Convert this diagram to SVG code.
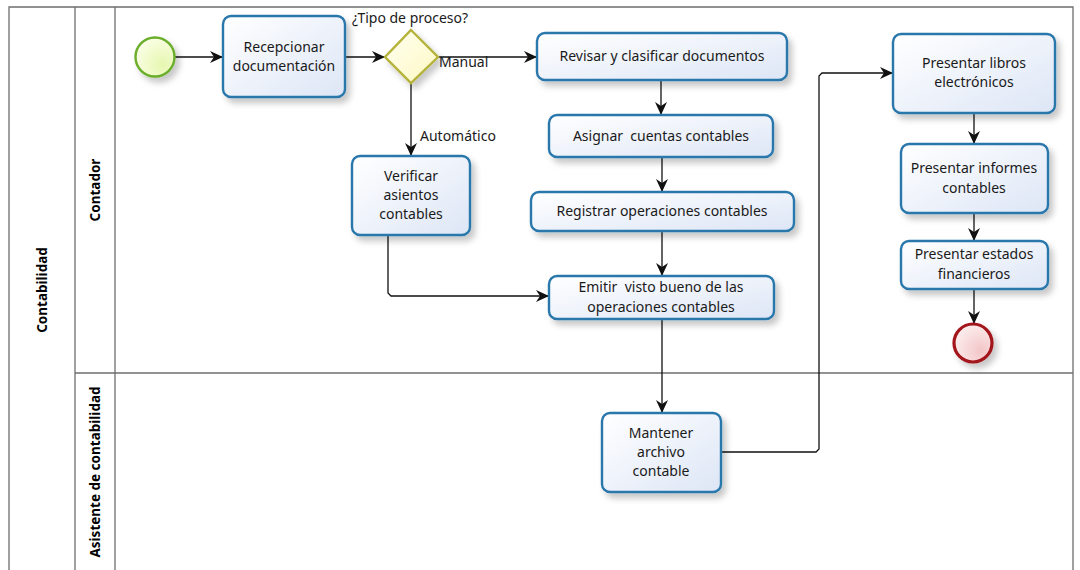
<svg xmlns="http://www.w3.org/2000/svg" width="1080" height="570" viewBox="0 0 1080 570">
  <style>
    .lane { fill: none; stroke: #6e6e6e; stroke-width: 1.3; }
    .lbl { font-family: "Noto Sans", "Open Sans", sans-serif; font-size: 13.5px; font-weight: bold; fill: #000; text-anchor: middle; }
    .task rect { fill: url(#taskFill); stroke: #2a77ac; stroke-width: 2.4; filter: url(#shadow); }
    .task text, .txt { font-family: "Noto Sans", "Open Sans", sans-serif; font-size: 14px; fill: #1a1a1a; text-anchor: middle; white-space: pre; }
    .start { text-anchor: start; }
    .flow { fill: none; stroke: #111; stroke-width: 1.3; marker-end: url(#arrow); }
  </style>
  <defs>
    <linearGradient id="taskFill" x1="0" y1="0" x2="1" y2="1">
      <stop offset="0" stop-color="#ffffff"/>
      <stop offset="1" stop-color="#dde6f6"/>
    </linearGradient>
    <radialGradient id="startFill" cx="0.7" cy="0.7" r="0.8">
      <stop offset="0" stop-color="#e6f7b0"/>
      <stop offset="1" stop-color="#fbffe8"/>
    </radialGradient>
    <radialGradient id="endFill" cx="0.7" cy="0.7" r="0.8">
      <stop offset="0" stop-color="#f3c6c8"/>
      <stop offset="1" stop-color="#fdf0f0"/>
    </radialGradient>
    <linearGradient id="gwFill" x1="0" y1="0" x2="1" y2="1">
      <stop offset="0" stop-color="#fffff0"/>
      <stop offset="1" stop-color="#fdf9c4"/>
    </linearGradient>
    <filter id="shadow" x="-20%" y="-20%" width="150%" height="160%">
      <feDropShadow dx="4" dy="5" stdDeviation="3" flood-color="#000" flood-opacity="0.22"/>
    </filter>
    <marker id="arrow" markerUnits="userSpaceOnUse" markerWidth="14" markerHeight="14" viewBox="0 0 14 14" refX="13" refY="7" orient="auto">
      <path d="M0,1 L13,7 L0,13 L4,7 z" fill="#111"/>
    </marker>
  </defs>

  <!-- pool and lanes -->
  <g id="pool">
    <rect x="0" y="0" width="1080" height="570" fill="#fff"/>
    <path class="lane" d="M9,575 V7 H1073 V575"/>
    <line class="lane" x1="75" y1="7" x2="75" y2="575"/>
    <line class="lane" x1="115" y1="7" x2="115" y2="575"/>
    <line class="lane" x1="75" y1="373" x2="1073" y2="373"/>
    <text class="lbl" transform="translate(47,290) rotate(-90)">Contabilidad</text>
    <text class="lbl" transform="translate(100,190) rotate(-90)">Contador</text>
    <text class="lbl" transform="translate(100,472) rotate(-90)">Asistente de contabilidad</text>
  </g>

  <!-- sequence flows -->
  <g id="connectors">
    <line class="flow" x1="175" y1="57" x2="223" y2="57"/>
    <line class="flow" x1="345" y1="57" x2="385" y2="57"/>
    <line class="flow" x1="438" y1="57" x2="537" y2="57"/>
    <line class="flow" x1="411" y1="83" x2="411" y2="156"/>
    <line class="flow" x1="661" y1="80" x2="661" y2="115"/>
    <line class="flow" x1="662" y1="157" x2="662" y2="192"/>
    <line class="flow" x1="662" y1="231" x2="662" y2="276"/>
    <path class="flow" d="M388,235 V293 L391,296 H549"/>
    <line class="flow" x1="662" y1="319" x2="662" y2="413"/>
    <path class="flow" d="M721,452 H816 L819,449 V76 L822,73 H893"/>
    <line class="flow" x1="974" y1="113" x2="974" y2="144"/>
    <line class="flow" x1="974" y1="213" x2="974" y2="241"/>
    <line class="flow" x1="974" y1="289" x2="974" y2="324"/>
    <text class="txt start" x="439" y="67">Manual</text>
    <text class="txt start" x="420" y="141">Automático</text>
  </g>

  <!-- events -->
  <g id="start">
    <circle cx="155" cy="57" r="19.5" fill="url(#startFill)" stroke="#6aae2a" stroke-width="2.4" filter="url(#shadow)"/>
  </g>
  <g id="end">
    <circle cx="973" cy="343" r="19" fill="url(#endFill)" stroke="#a3121a" stroke-width="3.2" filter="url(#shadow)"/>
  </g>

  <!-- gateway -->
  <g id="gateway">
    <polygon points="411,30 438,57 411,83 385,57" fill="url(#gwFill)" stroke="#b4b23a" stroke-width="2.4" filter="url(#shadow)"/>
    <text class="txt" x="410" y="23">¿Tipo de proceso?</text>
  </g>

  <!-- tasks -->
  <g id="recepcionar" class="task">
    <rect x="223" y="16" width="122" height="81" rx="8"/>
    <text x="284" y="52">Recepcionar</text>
    <text x="284" y="71">documentación</text>
  </g>
  <g id="revisar" class="task">
    <rect x="537" y="33" width="250" height="47" rx="8"/>
    <text x="662" y="61">Revisar y clasificar documentos</text>
  </g>
  <g id="asignar" class="task">
    <rect x="549" y="115" width="224" height="42" rx="8"/>
    <text x="661" y="141" xml:space="preserve">Asignar  cuentas contables</text>
  </g>
  <g id="registrar" class="task">
    <rect x="531" y="192" width="263" height="39" rx="8"/>
    <text x="662" y="216">Registrar operaciones contables</text>
  </g>
  <g id="verificar" class="task">
    <rect x="352" y="156" width="118" height="79" rx="8"/>
    <text x="411" y="181">Verificar</text>
    <text x="411" y="200">asientos</text>
    <text x="411" y="219">contables</text>
  </g>
  <g id="emitir" class="task">
    <rect x="549" y="276" width="225" height="43" rx="8"/>
    <text x="661" y="292" xml:space="preserve">Emitir  visto bueno de las</text>
    <text x="661" y="312">operaciones contables</text>
  </g>
  <g id="mantener" class="task">
    <rect x="602" y="413" width="119" height="79" rx="8"/>
    <text x="661" y="438">Mantener</text>
    <text x="661" y="457">archivo</text>
    <text x="661" y="476">contable</text>
  </g>
  <g id="libros" class="task">
    <rect x="893" y="34" width="162" height="79" rx="8"/>
    <text x="974" y="68">Presentar libros</text>
    <text x="974" y="87">electrónicos</text>
  </g>
  <g id="informes" class="task">
    <rect x="901" y="144" width="147" height="69" rx="8"/>
    <text x="974" y="173">Presentar informes</text>
    <text x="974" y="193">contables</text>
  </g>
  <g id="estados" class="task">
    <rect x="901" y="241" width="147" height="48" rx="8"/>
    <text x="974" y="259">Presentar estados</text>
    <text x="974" y="279">financieros</text>
  </g>
</svg>
